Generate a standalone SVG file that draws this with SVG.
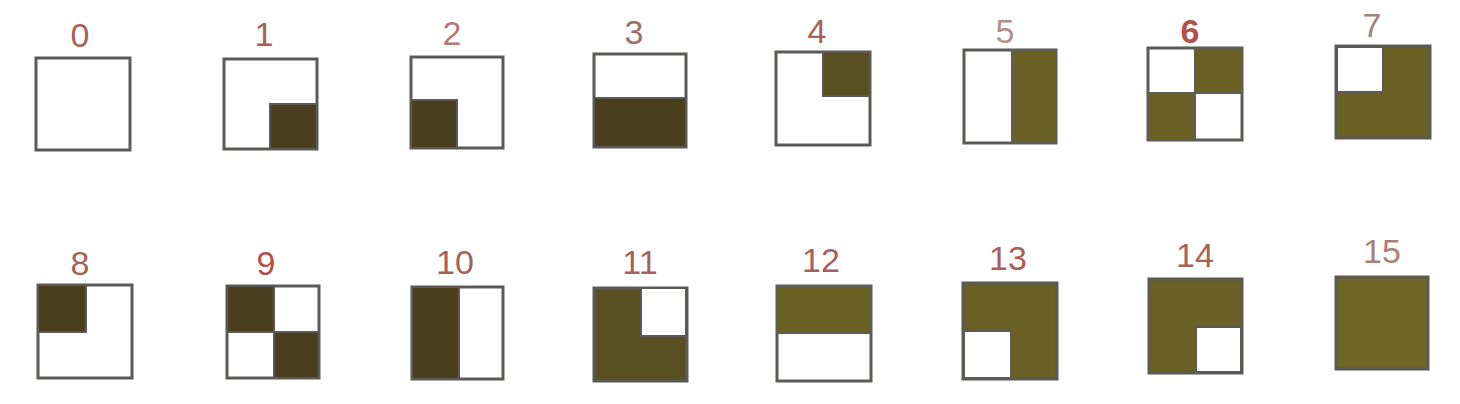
<svg xmlns="http://www.w3.org/2000/svg" width="1460" height="404" viewBox="0 0 1460 404">
<style>
.box{fill:#ffffff;stroke:#5b5a57;stroke-width:3}
.dk{fill:#4a3e1c;stroke:#5b5a57;stroke-width:2}
.md{fill:#5a4f20;stroke:#5b5a57;stroke-width:2}
.ol{fill:#6b6124;stroke:#5f5d58;stroke-width:2}
.wh{fill:#ffffff;stroke:#5b5a57;stroke-width:2}
.lbl{font-family:"Liberation Sans",Arial,sans-serif;font-size:34px;fill:#a8605a;text-anchor:middle}
</style>
<rect width="1460" height="404" fill="#ffffff"/>
<g id="n0"><text class="lbl" x="80" y="47">0</text><rect class="box" x="36" y="58" width="94" height="92"/></g>
<g id="n1"><text class="lbl" x="264" y="46">1</text><rect class="box" x="224" y="59" width="93" height="90"/><rect class="dk" x="270" y="104" width="47" height="45"/></g>
<g id="n2"><text class="lbl" x="452" y="45" fill-opacity="0.85">2</text><rect class="box" x="411" y="57" width="92" height="91"/><rect class="dk" x="411" y="100" width="46" height="48"/></g>
<g id="n3"><text class="lbl" x="634" y="44" style="fill:#9a7068">3</text><rect class="box" x="594" y="54" width="92" height="93"/><rect class="dk" x="594" y="98" width="92" height="49"/></g>
<g id="n4"><text class="lbl" x="817" y="43">4</text><rect class="box" x="776" y="52" width="94" height="93"/><rect class="md" x="823" y="52" width="47" height="44"/></g>
<g id="n5"><text class="lbl" x="1005" y="43" style="fill:#b09088">5</text><rect class="box" x="964" y="50" width="92" height="93"/><rect class="ol" x="1012" y="50" width="44" height="93"/></g>
<g id="n6"><text class="lbl" x="1190" y="43" style="fill:#b0524a;font-weight:bold">6</text><rect class="box" x="1148" y="48" width="94" height="92"/><rect class="ol" x="1195" y="48" width="47" height="45"/><rect class="ol" x="1148" y="93" width="47" height="47"/></g>
<g id="n7"><text class="lbl" x="1372" y="37" style="fill:#a08480">7</text><rect class="box" x="1336" y="46" width="94" height="92" style="fill:#6b6124"/><rect class="wh" x="1337" y="47" width="46" height="45"/></g>
<g id="n8"><text class="lbl" x="80" y="275">8</text><rect class="box" x="38" y="285" width="94" height="93"/><rect class="dk" x="38" y="285" width="48" height="47"/></g>
<g id="n9"><text class="lbl" x="266" y="275" style="fill:#b0524a">9</text><rect class="box" x="227" y="286" width="92" height="92"/><rect class="dk" x="227" y="286" width="47" height="46"/><rect class="dk" x="274" y="332" width="45" height="46"/></g>
<g id="n10"><text class="lbl" x="455" y="274">10</text><rect class="box" x="412" y="287" width="91" height="92"/><rect class="dk" x="412" y="287" width="47" height="92"/></g>
<g id="n11"><text class="lbl" x="640" y="274">11</text><rect class="box" x="594" y="288" width="93" height="93" style="fill:#5a4f20"/><rect class="wh" x="641" y="288" width="45" height="48"/></g>
<g id="n12"><text class="lbl" x="821" y="272">12</text><rect class="box" x="777" y="286" width="94" height="95"/><rect class="ol" x="777" y="286" width="94" height="47"/></g>
<g id="n13"><text class="lbl" x="1008" y="270">13</text><rect class="box" x="963" y="283" width="94" height="96" style="fill:#6b6124"/><rect class="wh" x="964" y="331" width="47" height="47"/></g>
<g id="n14"><text class="lbl" x="1195" y="267">14</text><rect class="box" x="1149" y="279" width="93" height="94" style="fill:#6b6124"/><rect class="wh" x="1196" y="327" width="45" height="45"/></g>
<g id="n15"><text class="lbl" x="1382" y="263" style="fill:#a8807a">15</text><rect class="box" x="1336" y="277" width="92" height="92" style="fill:#6e6526"/></g>
<g id="connectors"/>
</svg>
